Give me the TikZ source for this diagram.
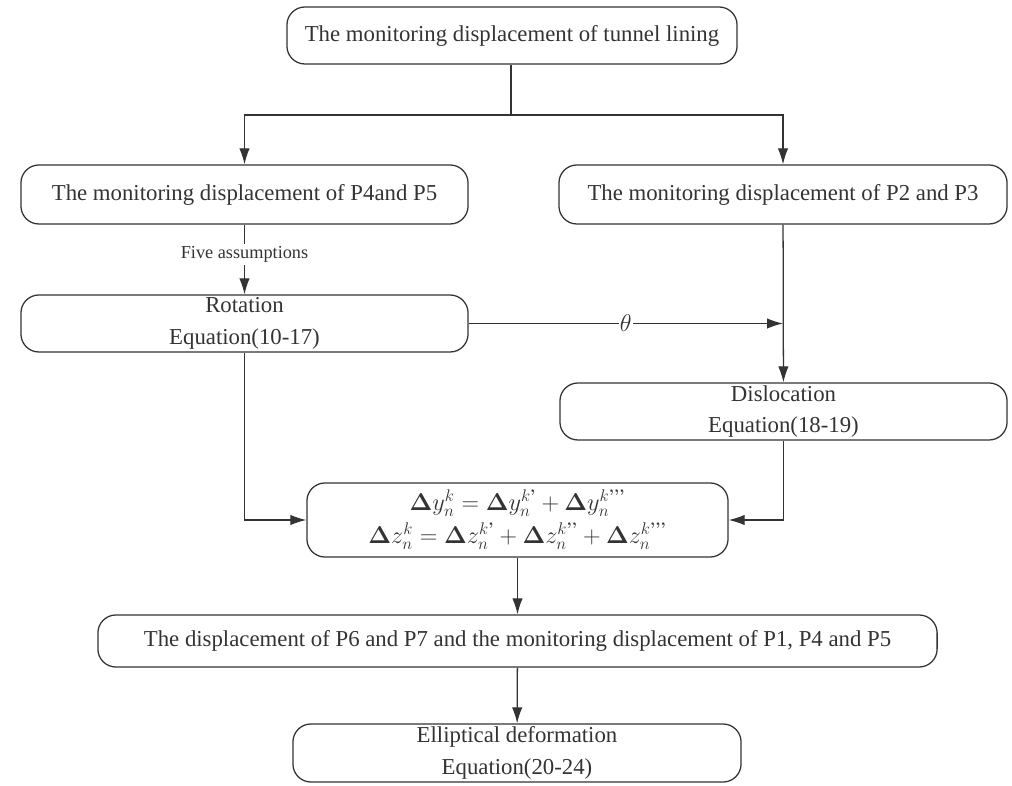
\documentclass[tikz,border=0pt]{standalone}
\usepackage{amsmath,amssymb}
\usepackage[no-math]{fontspec}
\setmainfont{Liberation Serif}
\newfontfamily\lmroman{Latin Modern Roman}
\usetikzlibrary{arrows.meta,calc,positioning}
\definecolor{inkgray}{HTML}{333333}
\newcommand{\qt}[1]{\text{\lmroman\bfseries #1}}

\begin{document}
\begin{tikzpicture}[>={Latex[length=4mm,width=2.6mm]}, x=0.025cm, y=-0.025cm,
  box/.style={draw=inkgray, line width=0.9pt, rounded corners=4.5mm, align=center,
    text=inkgray, inner sep=0pt, font=\fontsize{16.2}{22.7}\selectfont},
  flow/.style={->, draw=inkgray, line width=0.9pt}]
  \useasboundingbox (0,0) rectangle (1012,786);

  % Boxes of the chart
  \node[box, minimum width=11.25cm, minimum height=1.425cm] (lining) at (512,35.5)
    {The monitoring displacement of tunnel lining};
  \node[box, minimum width=11.175cm, minimum height=1.475cm] (pfour) at (244.5,194.5)
    {The monitoring displacement of P4and P5};
  \node[box, minimum width=11.2cm, minimum height=1.475cm] (ptwo) at (783,194.5)
    {The monitoring displacement of P2 and P3};
  \node[box, minimum width=11.175cm, minimum height=1.425cm] (rotation) at (244.5,323.5)
    {Rotation\\Equation(10-17)};
  \node[box, minimum width=11.175cm, minimum height=1.425cm] (dislocation) at (783.5,411.5)
    {Dislocation\\Equation(18-19)};
  \node[box, minimum width=10.525cm, minimum height=1.85cm,
    font=\fontsize{17}{23.4}\selectfont] (sum) at (517.5,520)
    {$\mathbf{\Delta} y_n^k=\mathbf{\Delta} y_n^{k\qt{’}}+\mathbf{\Delta} y_n^{k\qt{’’’}}$\\
     $\mathbf{\Delta} z_n^k=\mathbf{\Delta} z_n^{k\qt{’}}+\mathbf{\Delta} z_n^{k\qt{’’}}+\mathbf{\Delta} z_n^{k\qt{’’’}}$};
  \node[box, minimum width=20.975cm, minimum height=1.3cm] (psix) at (517.5,641)
    {The displacement of P6 and P7 and the monitoring displacement of P1, P4 and P5};
  \node[box, minimum width=11.2cm, minimum height=1.45cm] (ellipse) at (517,753)
    {Elliptical deformation\\Equation(20-24)};

  % Arrows
  \coordinate (split) at (511,115);
  \draw[flow] (lining.south -| split) -- (split) -| (pfour.north);
  \draw[flow] (split) -| (ptwo.north);
  \draw[flow] (pfour) -- node[fill=white, inner sep=2pt, text=inkgray,
    font=\fontsize{13}{15}\selectfont, pos=0.43] {Five assumptions} (rotation);
  \draw[flow] (ptwo) -- (dislocation);
  \draw[flow] (rotation.east) -- node[fill=white, inner sep=1pt, text=inkgray,
    font=\fontsize{18}{20}\selectfont] {$\theta$} (rotation.east -| ptwo.south);
  \draw[flow] (rotation.south) |- (sum.west);
  \draw[flow] (dislocation.south) |- (sum.east);
  \draw[flow] (sum) -- (psix);
  \draw[flow] (psix) -- (ellipse);
\end{tikzpicture}
\end{document}
